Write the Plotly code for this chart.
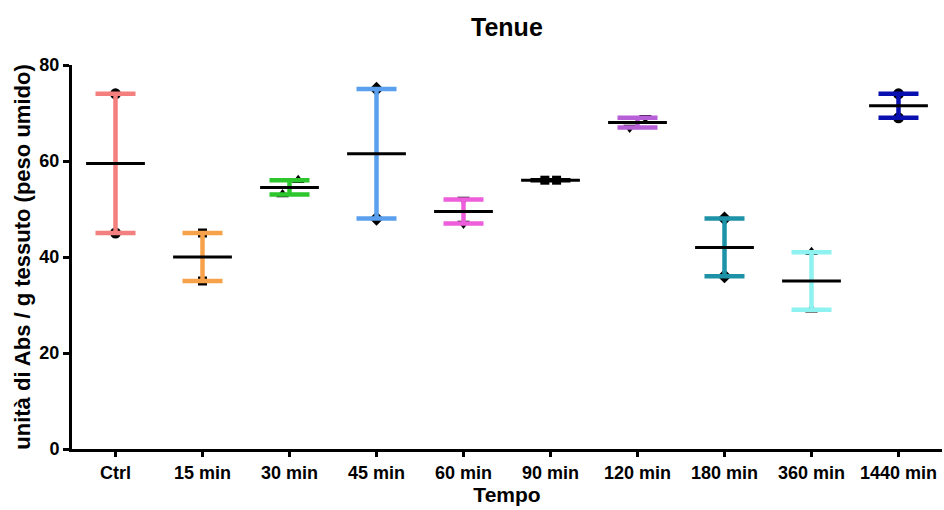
import plotly.graph_objects as go

categories = ["Ctrl", "15 min", "30 min", "45 min", "60 min", "90 min",
              "120 min", "180 min", "360 min", "1440 min"]
value_a = [74, 45, 53, 75, 52, 56, 69, 48, 41, 74]
value_b = [45, 35, 56, 48, 47, 56, 67, 36, 29, 69]
jitter_a = [0, 0, -0.08, 0, 0, -0.065, 0.09, 0, 0, 0]
jitter_b = [0, 0, 0.10, 0, 0, 0.07, -0.09, 0, 0, 0]
symbols = ["circle", "square", "triangle-up", "diamond", "triangle-down",
           "square", "triangle-down", "diamond", "triangle-up", "circle"]
colors = ["#F47F7F", "#F7A24B", "#2DC62D", "#5AA0EE", "#EE5EDC",
          "#000000", "#B75FD6", "#1E93A8", "#8EF2F0", "#0A10B0"]
y_ticks = [0, 20, 40, 60, 80]

idx = list(range(len(categories)))
means = [(a + b) / 2 for a, b in zip(value_a, value_b)]
hi = [max(a, b) for a, b in zip(value_a, value_b)]
lo = [min(a, b) for a, b in zip(value_a, value_b)]

FONT = "Liberation Sans, Arial, sans-serif"

fig = go.Figure()

# data points
for i in idx:
    fig.add_trace(go.Scatter(
        x=[i + jitter_a[i], i + jitter_b[i]],
        y=[value_a[i], value_b[i]],
        mode="markers",
        marker=dict(symbol=symbols[i], color="black",
                    size=9 if symbols[i] == "square" else 11),
        showlegend=False, hoverinfo="skip", cliponaxis=False))

# range bars
for i in idx:
    fig.add_trace(go.Scatter(
        x=[i], y=[means[i]], mode="markers",
        marker=dict(size=1, color="rgba(0,0,0,0)"),
        error_y=dict(type="data", symmetric=False,
                     array=[hi[i] - means[i]], arrayminus=[means[i] - lo[i]],
                     color=colors[i], thickness=4.5, width=20),
        showlegend=False, hoverinfo="skip", cliponaxis=False))

# mean lines
fig.add_trace(go.Scatter(
    x=idx, y=means, mode="markers",
    marker=dict(symbol="line-ew", size=42, line=dict(color="black", width=3)),
    showlegend=False, hoverinfo="skip", cliponaxis=False))

axis_font = dict(family=FONT, size=18, color="black", weight="bold")

fig.update_layout(
    width=944, height=510,
    margin=dict(l=72, r=2, t=65, b=61),
    paper_bgcolor="white", plot_bgcolor="white",
    title=dict(text="<b>Tenue</b>", x=0.537, xanchor="center", y=0.947,
               yanchor="middle",
               font=dict(family=FONT, size=25, color="black")),
    xaxis=dict(range=[-0.5, 9.5], tickmode="array", tickvals=idx,
               ticktext=["<b>%s</b>" % c for c in categories],
               tickfont=axis_font, showgrid=False, zeroline=False,
               showline=True, linecolor="black", linewidth=3,
               ticks="outside", ticklen=5, tickwidth=2.5, tickcolor="black",
               automargin=False,
               title=dict(text="<b>Tempo</b>", standoff=4,
                          font=dict(family=FONT, size=21, color="black"))),
    yaxis=dict(range=[0, 80], tickmode="array", tickvals=y_ticks,
               tickfont=axis_font, showgrid=False, zeroline=False,
               showline=True, linecolor="black", linewidth=3,
               ticks="outside", ticklen=6, tickwidth=2.5, tickcolor="black",
               automargin=False,
               title=dict(text="<b>unità di Abs / g tessuto (peso umido)</b>",
                          standoff=3,
                          font=dict(family=FONT, size=22, color="black"))),
)

fig.write_html("out.html",
               config={"displayModeBar": False},
               post_script="document.body.style.margin='0';"
                           "document.body.style.padding='0';")
